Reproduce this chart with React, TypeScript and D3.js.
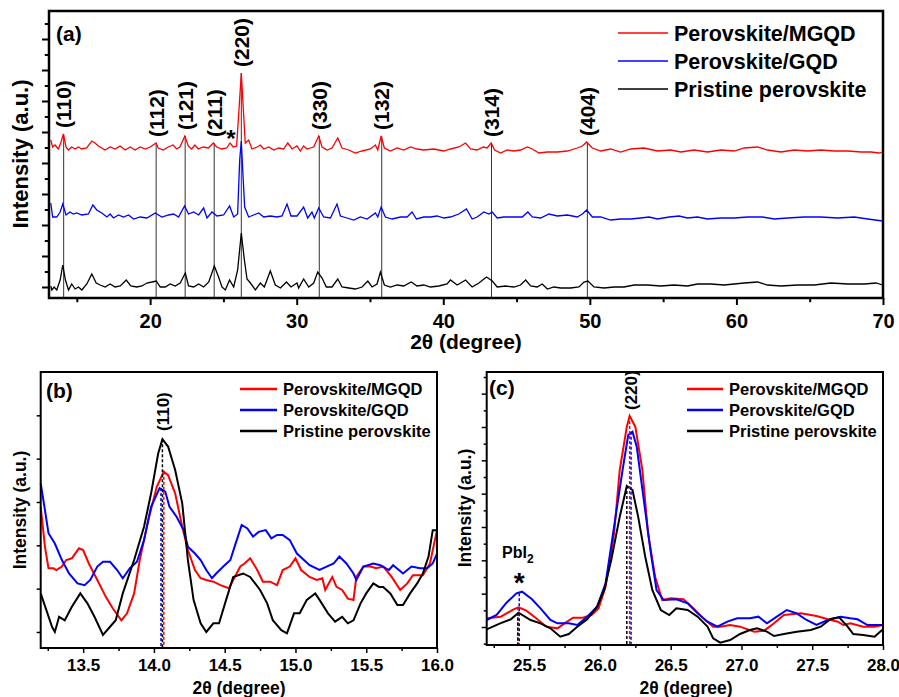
import React, { useEffect, useRef } from "react"
import * as d3 from "d3"

type Pt = [number, number]

const FONT = "'Liberation Sans', Arial, Helvetica, sans-serif"

const seriesNames = ["Perovskite/MGQD", "Perovskite/GQD", "Pristine perovskite"]
const seriesColors = ["#ff0000", "#0000ff", "#000000"]

// ---------- panel (a): full pattern, offset traces ----------
const mgqdA: Pt[] = [
    [13.22, 147], [13.35, 140], [13.51, 142], [13.74, 138], [13.9, 144], [14.08, 153], [14.26, 140], [14.42, 137],
    [14.65, 140], [14.88, 138], [15.1, 140], [15.33, 138], [15.67, 139], [16.02, 146], [16.24, 144], [16.47, 141],
    [16.7, 139], [16.93, 137], [17.27, 140], [17.61, 138], [17.95, 141], [18.3, 137], [18.64, 140], [18.98, 137],
    [19.32, 140], [19.66, 138], [20.0, 140], [20.41, 144], [20.55, 139], [20.89, 137], [21.23, 140], [21.57, 142],
    [21.8, 138], [22.03, 140], [22.37, 151], [22.6, 141], [22.83, 138], [23.05, 142], [23.28, 138], [23.62, 140],
    [23.97, 139], [24.31, 144], [24.54, 140], [24.88, 138], [25.22, 139], [25.45, 144], [25.68, 140], [25.9, 141],
    [26.06, 177], [26.22, 214], [26.36, 177], [26.49, 144], [26.72, 147], [26.95, 138], [27.29, 140], [27.52, 142],
    [27.75, 138], [28.09, 140], [28.43, 137], [28.77, 139], [29.11, 138], [29.39, 144], [29.68, 138], [30.02, 141],
    [30.25, 136], [30.47, 141], [30.7, 138], [30.93, 139], [31.16, 140], [31.5, 151], [31.73, 140], [32.07, 137],
    [32.41, 139], [32.8, 149], [33.09, 139], [33.55, 137], [34.0, 134], [34.46, 136], [35.03, 138], [35.37, 142],
    [35.53, 137], [35.76, 151], [35.98, 139], [36.39, 136], [36.85, 139], [37.3, 137], [37.76, 140], [38.21, 138],
    [38.67, 137], [39.35, 138], [40.04, 136], [40.49, 138], [41.06, 140], [41.52, 144], [41.86, 138], [42.31, 137],
    [42.72, 140], [42.99, 139], [43.27, 144], [43.5, 137], [43.91, 134], [44.36, 137], [44.82, 136], [45.27, 137],
    [45.73, 140], [46.07, 138], [46.53, 134], [47.1, 135], [47.78, 135], [48.46, 136], [49.14, 139], [49.49, 141],
    [49.78, 145], [50.17, 139], [50.74, 136], [51.42, 138], [52.1, 135], [52.79, 138], [53.7, 139], [54.61, 136],
    [55.52, 137], [56.2, 135], [57.11, 137], [58.02, 135], [58.93, 137], [59.85, 136], [60.53, 139], [61.44, 140],
    [62.12, 137], [63.03, 135], [63.94, 137], [64.85, 136], [65.77, 137], [66.68, 136], [67.59, 136], [68.5, 135],
    [69.18, 135], [69.75, 134], [69.98, 135]
]

const gqdA: Pt[] = [
    [13.22, 84], [13.35, 70], [13.63, 70], [13.86, 75], [14.04, 83], [14.26, 72], [14.53, 75], [14.76, 73],
    [14.99, 74], [15.34, 72], [15.79, 73], [16.09, 82], [16.36, 77], [16.7, 74], [17.05, 70], [17.27, 73],
    [17.5, 69], [17.84, 72], [18.18, 70], [18.53, 72], [18.87, 68], [19.32, 70], [19.78, 69], [20.35, 74],
    [20.8, 70], [21.26, 72], [21.6, 73], [21.94, 70], [22.35, 81], [22.62, 73], [22.97, 75], [23.31, 72],
    [23.65, 79], [23.88, 69], [24.22, 75], [24.56, 71], [25.01, 72], [25.42, 81], [25.7, 70], [25.97, 73],
    [26.11, 127], [26.22, 146], [26.34, 110], [26.45, 80], [26.72, 70], [27.06, 72], [27.41, 74], [27.75, 70],
    [28.2, 71], [28.66, 70], [29.0, 71], [29.34, 83], [29.61, 71], [30.02, 71], [30.47, 80], [30.75, 69],
    [31.04, 75], [31.2, 69], [31.5, 79], [31.84, 70], [32.3, 69], [32.75, 83], [32.98, 71], [33.43, 69],
    [33.89, 67], [34.34, 70], [34.8, 68], [35.37, 74], [35.53, 70], [35.76, 80], [36.05, 70], [36.51, 68],
    [37.08, 70], [37.53, 70], [37.87, 75], [38.17, 68], [38.67, 70], [39.13, 70], [39.58, 71], [40.04, 69],
    [40.49, 70], [41.06, 73], [41.58, 78], [41.97, 68], [42.31, 70], [42.77, 75], [43.11, 73], [43.34, 75],
    [43.68, 69], [44.13, 70], [44.59, 70], [45.05, 70], [45.39, 70], [45.77, 75], [46.07, 70], [46.64, 69],
    [47.21, 73], [47.78, 71], [48.46, 72], [49.14, 70], [49.49, 73], [49.78, 77], [50.17, 70], [50.74, 70],
    [51.42, 67], [52.1, 68], [52.79, 68], [53.47, 69], [54.04, 70], [54.61, 68], [55.41, 70], [56.09, 71],
    [56.66, 69], [57.34, 70], [58.02, 68], [58.93, 69], [59.85, 69], [60.76, 70], [61.78, 70], [62.58, 68],
    [63.49, 69], [64.63, 70], [65.77, 70], [66.9, 69], [68.04, 70], [68.95, 68], [69.98, 66]
]

const pristineA: Pt[] = [
    [13.22, 1], [13.29, -3], [13.45, 0], [13.63, -3], [13.86, 7], [14.04, 22], [14.22, 7], [14.43, -3],
    [14.65, 3], [14.88, -2], [15.11, 0], [15.34, -3], [15.68, 3], [16.02, 13], [16.32, 4], [16.59, 2],
    [16.93, 0], [17.27, 3], [17.61, 0], [17.96, 1], [18.37, 7], [18.68, 1], [19.09, 0], [19.44, 1],
    [19.78, 4], [20.12, 5], [20.42, 6], [20.69, 0], [21.03, 0], [21.37, 3], [21.71, 1], [22.05, 4],
    [22.4, 14], [22.62, 1], [22.97, 0], [23.31, 3], [23.65, 0], [24.0, 5], [24.38, 21], [24.67, 10],
    [24.9, 0], [25.13, -3], [25.42, 7], [25.7, 0], [25.97, 17], [26.22, 54], [26.43, 27], [26.61, 8],
    [26.84, 4], [27.18, -3], [27.52, 4], [27.79, 0], [28.2, 16], [28.54, 2], [28.89, -1], [29.3, 5],
    [29.61, 0], [30.02, 4], [30.13, -1], [30.47, 8], [30.82, 0], [31.16, 4], [31.43, 15], [31.73, 9],
    [32.02, 0], [32.41, 0], [32.8, 8], [33.09, 0], [33.55, -1], [34.0, -2], [34.46, 0], [34.85, 6],
    [35.14, 0], [35.48, 3], [35.71, 15], [35.98, 2], [36.39, 0], [36.85, 2], [37.3, 1], [37.81, 5],
    [38.21, 1], [38.67, 2], [39.13, 0], [39.7, 1], [40.26, 3], [40.49, 7], [40.95, 2], [41.52, 7],
    [41.97, 0], [42.43, 4], [42.95, 10], [43.34, 6], [43.68, 0], [44.25, 1], [44.82, 0], [45.27, 2],
    [45.62, 7], [45.96, 1], [46.41, 0], [46.75, 3], [47.1, -2], [47.55, 0], [48.01, -1], [48.69, -1],
    [49.26, 0], [49.6, 5], [49.87, 6], [50.28, 0], [50.97, -1], [51.65, 0], [52.33, 0], [53.02, 2],
    [53.93, 2], [54.84, 1], [55.75, 2], [56.66, 1], [57.34, 3], [58.25, 3], [59.16, 2], [60.53, 4],
    [61.44, 5], [62.12, 2], [63.03, 1], [64.17, 2], [65.31, 2], [66.45, 4], [67.59, 3], [68.73, 3],
    [69.52, 4], [69.98, 2]
]

const reflections = ["(110)", "(112)", "(121)", "(211)", "(220)", "(330)", "(132)", "(314)", "(404)"]
const reflectionAngles = [14.1, 20.41, 22.39, 24.37, 26.22, 31.54, 35.8, 43.29, 49.83]
const pbI2AngleA = 25.45
const xTicksA = [20, 30, 40, 50, 60, 70]
const xMinorA = [15, 25, 35, 45, 55, 65]
const yTicksA = d3.range(0, 249, 31)
const yMinorA = d3.range(15.5, 264, 31)

// ---------- panel (b): (110) region ----------
const mgqdB: Pt[] = [
    [13.2, 289], [13.23, 197], [13.255, 147], [13.29, 147], [13.31, 143], [13.35, 151], [13.38, 166], [13.42, 170],
    [13.47, 193], [13.5, 189], [13.54, 158], [13.6, 120], [13.66, 81], [13.71, 54], [13.77, 27], [13.81, 43],
    [13.86, 89], [13.9, 166], [13.96, 258], [14.02, 335], [14.07, 370], [14.1, 362], [14.15, 320], [14.2, 243],
    [14.24, 189], [14.29, 143], [14.33, 124], [14.37, 120], [14.42, 116], [14.47, 108], [14.53, 101], [14.56, 120],
    [14.61, 151], [14.64, 158], [14.68, 170], [14.73, 143], [14.77, 116], [14.82, 116], [14.87, 108], [14.91, 143],
    [14.96, 151], [15.0, 170], [15.04, 143], [15.1, 127], [15.15, 120], [15.19, 124], [15.21, 97], [15.26, 127],
    [15.29, 104], [15.33, 97], [15.37, 77], [15.41, 74], [15.43, 127], [15.48, 151], [15.53, 151], [15.57, 147],
    [15.62, 151], [15.68, 127], [15.74, 97], [15.79, 112], [15.83, 131], [15.9, 131], [15.95, 158], [16.0, 235]
]

const gqdB: Pt[] = [
    [13.2, 343], [13.23, 281], [13.255, 228], [13.3, 204], [13.35, 166], [13.4, 135], [13.46, 112], [13.51, 108],
    [13.55, 120], [13.6, 151], [13.64, 162], [13.69, 162], [13.74, 143], [13.78, 124], [13.83, 147], [13.88, 162],
    [13.93, 212], [13.98, 289], [14.04, 332], [14.08, 324], [14.11, 289], [14.16, 266], [14.21, 235], [14.24, 197],
    [14.29, 181], [14.33, 166], [14.37, 143], [14.41, 124], [14.44, 135], [14.49, 151], [14.54, 166], [14.57, 197],
    [14.62, 247], [14.66, 239], [14.7, 220], [14.74, 231], [14.79, 235], [14.83, 216], [14.87, 224], [14.91, 224],
    [14.96, 212], [15.01, 181], [15.06, 166], [15.1, 154], [15.17, 143], [15.22, 151], [15.27, 158], [15.31, 174],
    [15.36, 158], [15.41, 135], [15.43, 120], [15.48, 151], [15.55, 158], [15.6, 154], [15.66, 143], [15.69, 154],
    [15.76, 135], [15.82, 151], [15.88, 147], [15.93, 147], [15.97, 158], [16.0, 181]
]

const pristineB: Pt[] = [
    [13.2, 89], [13.28, 12], [13.3, 0], [13.33, 35], [13.37, 27], [13.42, 58], [13.48, 89], [13.53, 66],
    [13.58, 35], [13.64, -7], [13.69, 12], [13.73, 27], [13.78, 89], [13.86, 166], [13.93, 243], [13.98, 320],
    [14.03, 412], [14.06, 445], [14.1, 428], [14.15, 374], [14.2, 297], [14.24, 166], [14.28, 74], [14.33, 20],
    [14.37, 0], [14.42, 20], [14.46, 20], [14.51, 74], [14.56, 127], [14.63, 135], [14.68, 127], [14.75, 97],
    [14.8, 66], [14.84, 27], [14.9, 4], [14.94, -3], [14.99, 43], [15.03, 43], [15.08, 74], [15.14, 89],
    [15.17, 74], [15.23, 43], [15.28, 24], [15.33, 35], [15.37, 20], [15.41, 27], [15.46, 66], [15.5, 89],
    [15.55, 112], [15.59, 104], [15.62, 104], [15.67, 89], [15.72, 62], [15.76, 62], [15.81, 89], [15.86, 112],
    [15.9, 135], [15.94, 174], [15.97, 235], [16.0, 235]
]

const peakB = [14.07, 14.05, 14.06]
const xTicksB = [13.5, 14.0, 14.5, 15.0, 15.5, 16.0]
const xMinorB = [13.25, 13.75, 14.25, 14.75, 15.25, 15.75]
const yTicksB = [0, 100, 200, 300, 400, 500]

// ---------- panel (c): (220) region ----------
const mgqdC: Pt[] = [
    [25.2, 26], [25.3, 31], [25.39, 53], [25.425, 59], [25.48, 49], [25.55, 26], [25.62, 1], [25.7, -4],
    [25.75, 11], [25.81, 28], [25.88, 28], [25.94, 36], [25.99, 56], [26.04, 121], [26.1, 281], [26.14, 471],
    [26.19, 601], [26.21, 633], [26.25, 601], [26.3, 471], [26.34, 281], [26.39, 151], [26.44, 81], [26.5, 86],
    [26.59, 83], [26.66, 56], [26.73, 26], [26.8, 1], [26.85, 1], [26.92, 6], [26.99, 1], [27.09, -14],
    [27.16, -11], [27.23, 11], [27.3, 36], [27.42, 41], [27.53, 33], [27.63, 21], [27.68, 16], [27.72, 6],
    [27.77, 11], [27.86, 1], [27.94, 1], [28.0, 6]
]

const gqdC: Pt[] = [
    [25.2, 21], [25.27, 36], [25.34, 73], [25.41, 101], [25.45, 106], [25.52, 83], [25.58, 56], [25.65, 21],
    [25.7, 11], [25.78, 11], [25.84, 6], [25.91, 31], [25.98, 61], [26.04, 131], [26.1, 301], [26.16, 471],
    [26.2, 576], [26.23, 586], [26.26, 541], [26.31, 381], [26.36, 221], [26.4, 111], [26.45, 81], [26.54, 83],
    [26.62, 71], [26.69, 41], [26.76, 16], [26.83, 1], [26.9, 16], [26.97, 26], [27.06, 26], [27.12, 31],
    [27.18, 11], [27.25, 31], [27.32, 51], [27.39, 41], [27.46, 21], [27.53, 6], [27.61, 21], [27.7, 31],
    [27.77, 26], [27.82, 23], [27.89, 6], [28.0, 6]
]

const pristineC: Pt[] = [
    [25.2, -7], [25.295, 11], [25.37, 23], [25.425, 43], [25.51, 21], [25.58, 11], [25.65, -4], [25.72, -29],
    [25.78, -21], [25.84, 1], [25.91, 23], [25.98, 61], [26.03, 111], [26.08, 201], [26.14, 331], [26.19, 423],
    [26.23, 411], [26.27, 331], [26.32, 211], [26.37, 111], [26.43, 51], [26.49, 36], [26.54, 56], [26.62, 51],
    [26.69, 31], [26.76, 1], [26.8, -34], [26.85, -47], [26.92, -39], [26.99, -21], [27.06, -9], [27.11, -4],
    [27.18, -14], [27.23, -27], [27.3, -21], [27.39, -14], [27.49, -9], [27.56, 1], [27.63, 24], [27.69, 29],
    [27.75, 1], [27.79, -21], [27.86, -24], [27.94, -29], [28.0, -7]
]

const peakC220 = [26.21, 26.22, 26.19]
const peakCPbI2 = [25.42, 25.43, 25.42]
const xTicksC = [25.5, 26.0, 26.5, 27.0, 27.5, 28.0]
const xMinorC = [25.25, 25.75, 26.25, 26.75, 27.25, 27.75]
const yTicksC = d3.range(0, 701, 100)
const yMinorC = d3.range(-50, 751, 100)

function valueAt(data: Pt[], angle: number) {
    const p = d3.least(data, d => Math.abs(d[0] - angle))
    return p ? p[1] : 0
}

function drawAxes(g: any, x: any, y: any, o: any) {
    const [yb] = y.range()
    const [xl] = x.range()
    const xa = g.append("g").attr("transform", `translate(0,${yb})`)
        .call(d3.axisBottom(x).tickValues(o.xMajor).tickSize(o.xLen).tickPadding(o.pad)
            .tickFormat(o.fmt))
    xa.selectAll("text").attr("font-family", FONT).attr("font-weight", "bold")
        .attr("font-size", o.fs).attr("fill", "#000")
    g.append("g").attr("transform", `translate(0,${yb})`)
        .call(d3.axisBottom(x).tickValues(o.xMinor).tickSize(o.xLen * 0.6).tickFormat(() => ""))
    g.append("g").attr("transform", `translate(${xl},0)`)
        .call(d3.axisLeft(y).tickValues(o.yMajor).tickSize(o.yLen).tickFormat(() => ""))
    if (o.yMinor) {
        g.append("g").attr("transform", `translate(${xl},0)`)
            .call(d3.axisLeft(y).tickValues(o.yMinor).tickSize(o.yLen * 0.6).tickFormat(() => ""))
    }
    g.selectAll(".domain").remove()
    g.selectAll(".tick line").attr("stroke", "#000").attr("stroke-width", o.tw)
}

function drawFrame(g: any, x: any, y: any, w: number) {
    const [x0, x1] = x.range()
    const [y0, y1] = y.range()
    g.append("rect").attr("x", x0).attr("y", y1).attr("width", x1 - x0).attr("height", y0 - y1)
        .attr("fill", "none").attr("stroke", "#000").attr("stroke-width", w)
}

function drawLegend(g: any, x0: number, len: number, ys: number[], fs: number, lw: number) {
    seriesNames.forEach((name, i) => {
        g.append("line").attr("x1", x0).attr("x2", x0 + len).attr("y1", ys[i]).attr("y2", ys[i])
            .attr("stroke", seriesColors[i]).attr("stroke-width", lw)
        g.append("text").attr("x", x0 + len + 6).attr("y", ys[i]).attr("dy", "0.36em")
            .attr("font-family", FONT).attr("font-weight", "bold").attr("font-size", fs)
            .text(name)
    })
}

function yTitle(g: any, tx: number, ty: number, fs: number) {
    g.append("text").attr("transform", `translate(${tx},${ty}) rotate(-90)`)
        .attr("text-anchor", "middle").attr("font-family", FONT).attr("font-weight", "bold")
        .attr("font-size", fs).text("Intensity (a.u.)")
}

function xTitle(g: any, tx: number, ty: number, fs: number) {
    g.append("text").attr("x", tx).attr("y", ty)
        .attr("text-anchor", "middle").attr("font-family", FONT).attr("font-weight", "bold")
        .attr("font-size", fs).text("2θ (degree)")
}

function drawA(svg: any) {
    const g = svg.append("g")
    const x = d3.scaleLinear().domain([13.1, 70]).range([49, 883])
    const y = d3.scaleLinear().domain([-11, 276]).range([298, 11])
    const line = d3.line<Pt>().x(d => x(d[0])).y(d => y(d[1]))

    drawAxes(g, x, y, {
        xMajor: xTicksA, xMinor: xMinorA, yMajor: yTicksA, yMinor: yMinorA,
        xLen: 7, yLen: 7, pad: 9, fs: 20, tw: 2, fmt: (d: number) => d3.format("d")(d)
    })

    // reflection markers
    reflections.forEach((hkl, i) => {
        const a = reflectionAngles[i]
        const top = y(valueAt(mgqdA, a))
        g.append("line").attr("x1", x(a)).attr("x2", x(a)).attr("y1", top).attr("y2", y.range()[0])
            .attr("stroke", "#333").attr("stroke-width", 1)
        g.append("text").attr("transform", `translate(${x(a)},${top - 6}) rotate(-90)`)
            .attr("dy", "0.36em").attr("font-family", FONT).attr("font-weight", "bold")
            .attr("font-size", 21).text(hkl)
    })

    const traces = [pristineA, gqdA, mgqdA]
    const cols = [seriesColors[2], seriesColors[1], seriesColors[0]]
    traces.forEach((d, i) => {
        g.append("path").attr("d", line(d)).attr("fill", "none")
            .attr("stroke", cols[i]).attr("stroke-width", 1.3)
    })

    g.append("text").attr("x", x(pbI2AngleA) + 1).attr("y", y(valueAt(mgqdA, pbI2AngleA)) + 4)
        .attr("text-anchor", "middle").attr("font-family", FONT).attr("font-weight", "bold")
        .attr("font-size", 24).text("*")

    drawFrame(g, x, y, 2.5)
    drawLegend(g, 618, 50, [33, 61, 89], 21.5, 1.5)
    g.append("text").attr("x", 56).attr("y", 41).attr("font-family", FONT).attr("font-weight", "bold")
        .attr("font-size", 21).text("(a)")
    yTitle(g, 28, 154, 22)
    xTitle(g, 466, 349, 21)
}

function drawB(svg: any) {
    const g = svg.append("g")
    const x = d3.scaleLinear().domain([13.2, 16]).range([40.7, 437])
    const y = d3.scaleLinear().domain([-37, 600]).range([648, 372])
    const line = d3.line<Pt>().x(d => x(d[0])).y(d => y(d[1]))

    drawAxes(g, x, y, {
        xMajor: xTicksB, xMinor: xMinorB, yMajor: yTicksB,
        xLen: 5, yLen: 4, pad: 6, fs: 17, tw: 1.5, fmt: (d: number) => d.toFixed(1)
    })

    const traces = [mgqdB, gqdB, pristineB]
    traces.forEach((d, i) => {
        g.append("path").attr("d", line(d)).attr("fill", "none")
            .attr("stroke", seriesColors[i]).attr("stroke-width", 2)
    })
    traces.forEach((d, i) => {
        const a = peakB[i]
        g.append("line").attr("x1", x(a)).attr("x2", x(a)).attr("y1", y(valueAt(d, a))).attr("y2", y.range()[0])
            .attr("stroke", seriesColors[i]).attr("stroke-width", 1.5).attr("stroke-dasharray", "3,2")
    })
    g.append("text").attr("transform", `translate(${x(peakB[2])},431) rotate(-90)`)
        .attr("dy", "0.36em").attr("font-family", FONT).attr("font-weight", "bold")
        .attr("font-size", 17).text("(110)")

    drawFrame(g, x, y, 2)
    drawLegend(g, 240, 37, [389, 410, 431], 16.5, 2.5)
    g.append("text").attr("x", 46).attr("y", 398).attr("font-family", FONT).attr("font-weight", "bold")
        .attr("font-size", 21).text("(b)")
    yTitle(g, 25.5, 510, 17.5)
    xTitle(g, 239, 694, 17.5)
}

function drawC(svg: any) {
    const g = svg.append("g")
    const x = d3.scaleLinear().domain([25.2, 28]).range([486.7, 883])
    const y = d3.scaleLinear().domain([-54, 765]).range([645, 372])
    const line = d3.line<Pt>().x(d => x(d[0])).y(d => y(d[1]))

    drawAxes(g, x, y, {
        xMajor: xTicksC, xMinor: xMinorC, yMajor: yTicksC, yMinor: yMinorC,
        xLen: 5, yLen: 5, pad: 9, fs: 17, tw: 1.5, fmt: (d: number) => d.toFixed(1)
    })

    const traces = [mgqdC, gqdC, pristineC]
    traces.forEach((d, i) => {
        g.append("path").attr("d", line(d)).attr("fill", "none")
            .attr("stroke", seriesColors[i]).attr("stroke-width", 2)
    })
    traces.forEach((d, i) => {
        ;[peakC220[i], peakCPbI2[i]].forEach(a => {
            g.append("line").attr("x1", x(a)).attr("x2", x(a)).attr("y1", y(valueAt(d, a))).attr("y2", y.range()[0])
                .attr("stroke", seriesColors[i]).attr("stroke-width", 1.5).attr("stroke-dasharray", "3,2")
        })
    })
    g.append("text").attr("transform", `translate(${x(peakC220[1])},410) rotate(-90)`)
        .attr("dy", "0.36em").attr("font-family", FONT).attr("font-weight", "bold")
        .attr("font-size", 17).text("(220)")

    const pb = g.append("text").attr("x", 502).attr("y", 558).attr("font-family", FONT)
        .attr("font-weight", "bold").attr("font-size", 16)
    pb.append("tspan").text("PbI")
    pb.append("tspan").attr("dy", 5).attr("font-size", 12).text("2")
    g.append("text").attr("x", x(peakCPbI2[1])).attr("y", 592).attr("text-anchor", "middle")
        .attr("font-family", FONT).attr("font-weight", "bold").attr("font-size", 28).text("*")

    drawFrame(g, x, y, 2)
    drawLegend(g, 687, 36, [389, 410, 431], 16.5, 2.5)
    g.append("text").attr("x", 489).attr("y", 395).attr("font-family", FONT).attr("font-weight", "bold")
        .attr("font-size", 21).text("(c)")
    yTitle(g, 470.5, 508, 17.5)
    xTitle(g, 686, 694, 17.5)
}

export default function App() {
    const ref = useRef<SVGSVGElement>(null)

    useEffect(() => {
        const svg = d3.select(ref.current)
        svg.selectAll("*").remove()
        drawA(svg)
        drawB(svg)
        drawC(svg)
    }, [])

    return (
        <svg ref={ref} width={899} height={697}
            style={{ position: "absolute", left: 0, top: 0, background: "#fff" }} />
    )
}
